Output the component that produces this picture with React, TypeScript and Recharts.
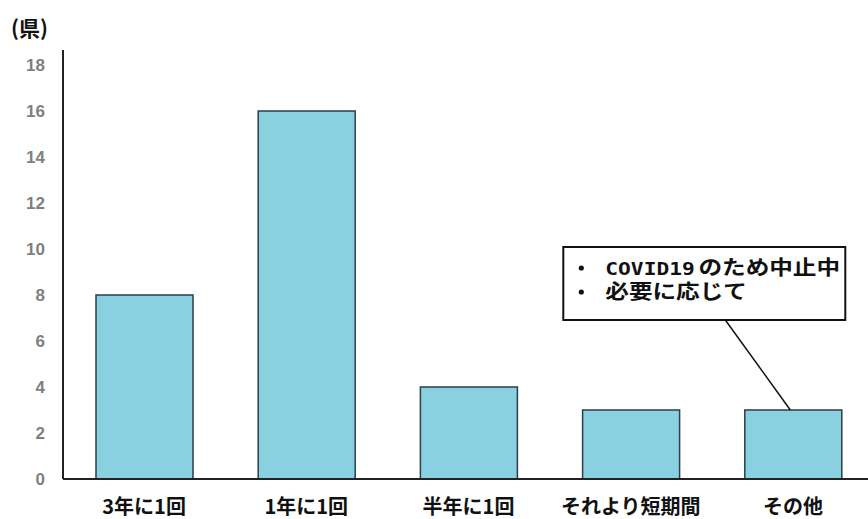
import React from "react";
import { BarChart, Bar, XAxis, YAxis, LabelList } from "recharts";

const categories = ["3年に1回", "1年に1回", "半年に1回", "それより短期間", "その他"];
const counts = [8, 16, 4, 3, 3];
const yTicks = [0, 2, 4, 6, 8, 10, 12, 14, 16, 18];
const unitLabel = "(県)";
const noteMono = "COVID19";
const noteLine1 = "のため中止中";
const noteLine2 = "必要に応じて";
const noteIndex = 4;

const data = categories.map((c, i) => ({ name: c, value: counts[i] }));

const JP = '"Noto Sans CJK JP", "Noto Sans", sans-serif';

const XTick = (props: any) => {
  const { x, y, payload } = props;
  return (
    <text
      x={x}
      y={y + 35}
      textAnchor="middle"
      fontFamily={JP}
      fontWeight={700}
      fontSize={20}
      fill="#111"
    >
      {payload.value}
    </text>
  );
};

const Note = (props: any) => {
  const { x, y, width, index } = props;
  if (index !== noteIndex) return null;
  const cx = x + width / 2;
  const top = y;
  const by = top - 135;
  return (
    <g>
      <line x1={cx - 3} y1={top} x2={cx - 68} y2={top - 90} stroke="#111" strokeWidth={1.5} />
      <rect x={cx - 230} y={top - 163} width={282} height={73} fill="#fff" stroke="#111" strokeWidth={2} />
      <circle cx={cx - 212} cy={by - 7} r={2.6} fill="#111" />
      <circle cx={cx - 212} cy={by + 17} r={2.6} fill="#111" />
      <g transform={`translate(${cx - 188},${by}) scale(1.18,1)`}>
        <text x={0} y={0} fontWeight={700} fill="#111" fontSize={20} fontFamily={JP}>
          <tspan x={0} y={0} fontSize={18} fontFamily='"DejaVu Sans Mono", monospace'>
            {noteMono}
          </tspan>
          <tspan x={79} y={0}>
            {noteLine1}
          </tspan>
          <tspan x={0} y={24}>
            {noteLine2}
          </tspan>
        </text>
      </g>
    </g>
  );
};

export default function App() {
  return (
    <div
      style={{
        position: "absolute",
        left: 0,
        top: 0,
        width: 868,
        height: 519,
        overflow: "hidden",
        background: "#fff",
      }}
    >
      <svg style={{ position: "absolute", left: 0, top: 0 }} width={120} height={45}>
        <text x={11} y={36} fontFamily={JP} fontWeight={700} fontSize={21} fill="#111">
          {unitLabel}
        </text>
      </svg>
      <BarChart
        width={876}
        height={519}
        data={data}
        margin={{ top: 50, right: 2, left: 0, bottom: 10 }}
        barSize={97}
      >
        <XAxis
          dataKey="name"
          height={30}
          tickSize={0}
          tickMargin={0}
          tick={<XTick />}
          axisLine={{ stroke: "#222", strokeWidth: 2 }}
          tickLine={false}
          interval={0}
        />
        <YAxis
          width={63}
          domain={[0, 18.65]}
          ticks={yTicks}
          allowDataOverflow
          tickSize={0}
          tickMargin={18}
          tickLine={false}
          axisLine={{ stroke: "#222", strokeWidth: 2 }}
          tick={{
            fill: "#7f7f7f",
            fontSize: 17,
            fontWeight: 700,
            fontFamily: '"Liberation Sans", Arial, sans-serif',
          }}
        />
        <Bar
          dataKey="value"
          fill="#89D1E1"
          stroke="#2d3e48"
          strokeWidth={1.5}
          isAnimationActive={false}
        >
          <LabelList dataKey="value" content={<Note />} />
        </Bar>
      </BarChart>
    </div>
  );
}
